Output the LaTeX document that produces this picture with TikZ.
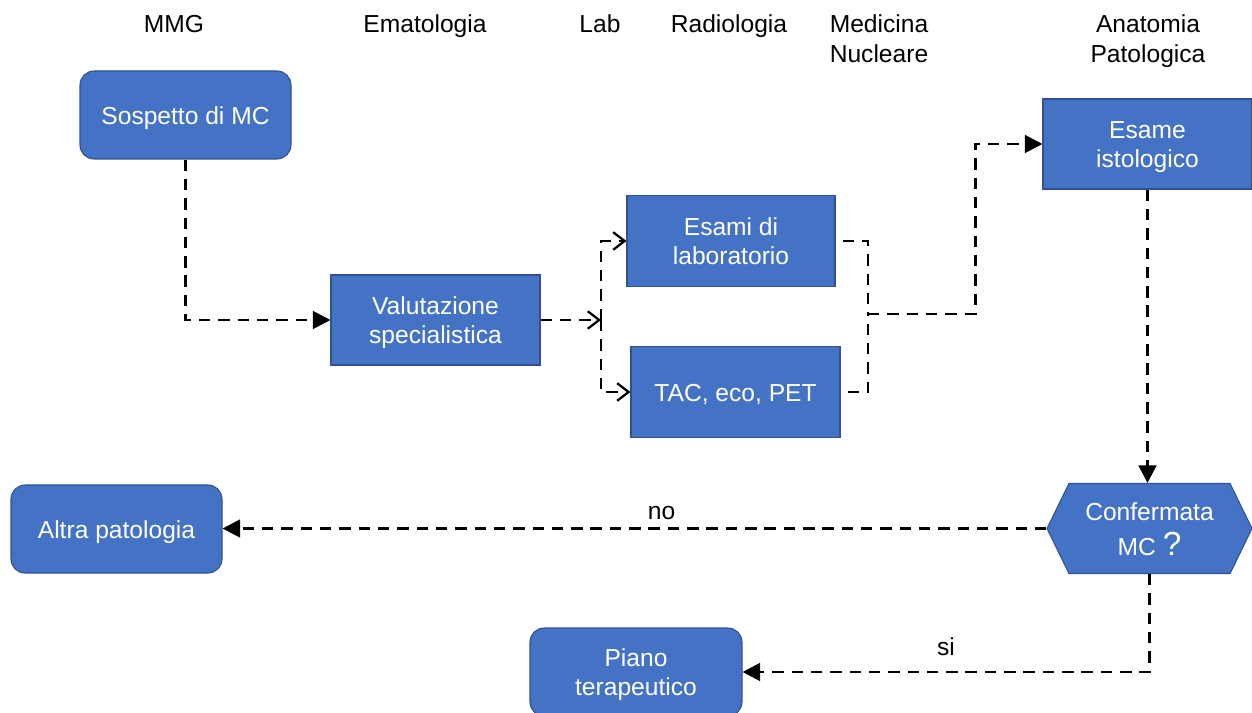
\documentclass[tikz,border=0pt]{standalone}
\usepackage{fontspec}
\setmainfont{Liberation Sans}
\usetikzlibrary{positioning,arrows.meta,shapes.symbols}

\definecolor{boxblue}{HTML}{4472C4}
\definecolor{boxline}{HTML}{2F528F}

\def\px{0.02cm} % one pixel of the reference

\tikzset{
  box/.style={draw=boxline, fill=boxblue, line width=0.6pt, text=white,
    align=center, minimum width=209*\px, minimum height=90*\px, inner sep=2pt,
    text height=13.5pt, text depth=3pt},
  twolines/.style={text height=30.3pt},
  roundbox/.style={box, rounded corners=8pt, minimum width=211*\px, minimum height=88*\px},
  decision/.style={box, signal, signal to=west and east, signal pointer angle=128,
    minimum width=205*\px, minimum height=90*\px},
  head/.style={align=center, text height=10pt, text depth=0pt},
  flow/.style={line width=1.7pt, dash pattern=on 6.5pt off 4.5pt},
  solidtip/.style={-{Triangle[length=10pt,width=10pt]}},
  opentip/.style={-{Straight Barb[length=6.5pt,width=10pt,line width=1.3pt]}},
}

\begin{document}
\begin{tikzpicture}[x=0.02cm, y=-0.02cm, font=\fontsize{14}{16.8}\selectfont]
  % picture frame, one unit = one pixel of the reference
  \useasboundingbox (0,0) rectangle (1252,713);

  % --- column headers ---
  \node[head] (hMMG) at (174,24) {MMG};
  \node[head] (hEma) at (425,24) {Ematologia};
  \node[head] (hLab) at (600,24) {Lab};
  \node[head] (hRad) at (729,24) {Radiologia};
  \node[head, text height=26.8pt] (hMed) at (879,38.5) {Medicina\\Nucleare};
  \node[head, text height=26.8pt] (hAna) at (1148,38.5) {Anatomia\\Patologica};

  % --- steps ---
  \node[roundbox] (sospetto) at (185.5,115) {Sospetto di MC};
  \node[box, twolines] (valut) at (435.5,320) {Valutazione\\specialistica};
  \node[box, twolines, minimum width=208*\px, minimum height=91*\px] (esami) at (731,241) {Esami di\\laboratorio};
  \node[box, minimum height=91*\px] (tac) at (735.5,392) {TAC, eco, PET};
  \node[box, twolines] (istol) at (1147.5,144) {Esame\\istologico};
  \node[decision, text height=33.3pt] (conf) at (1149.5,528.5) {Confermata\\[3pt]MC {\fontsize{19}{19}\selectfont ?}};
  \node[roundbox] (altra) at (116.5,529) {Altra patologia};
  \node[roundbox, twolines, minimum width=212*\px] (piano) at (636,672) {Piano\\terapeutico};

  % junction points of the branches
  \coordinate (split) at (601,320);
  \coordinate (join) at (868,314);
  \coordinate (bend) at (975,314);

  % --- connectors ---
  \draw[flow, solidtip] (sospetto.south) |- (valut.west);
  \draw[flow, opentip] (valut.east) -- (split);
  \draw[flow, opentip] (split) |- (esami.west);
  \draw[flow, opentip] (split) |- (tac.west);
  \draw[flow, shorten <=4pt] (esami.east) -| (join);
  \draw[flow, shorten <=4pt] (tac.east) -| (join);
  \draw[flow, solidtip] (join) -- (bend) |- (istol.west);
  \draw[flow, solidtip] (istol.south) -- (istol.south |- conf.north);
  \draw[flow, solidtip] (conf.west) -- node[pos=0.467, above=1pt] {no} (conf.west -| altra.east);
  \draw[flow, solidtip] (conf.south) |- node[pos=0.75, above=5pt] {si} (piano.east);
\end{tikzpicture}
\end{document}
